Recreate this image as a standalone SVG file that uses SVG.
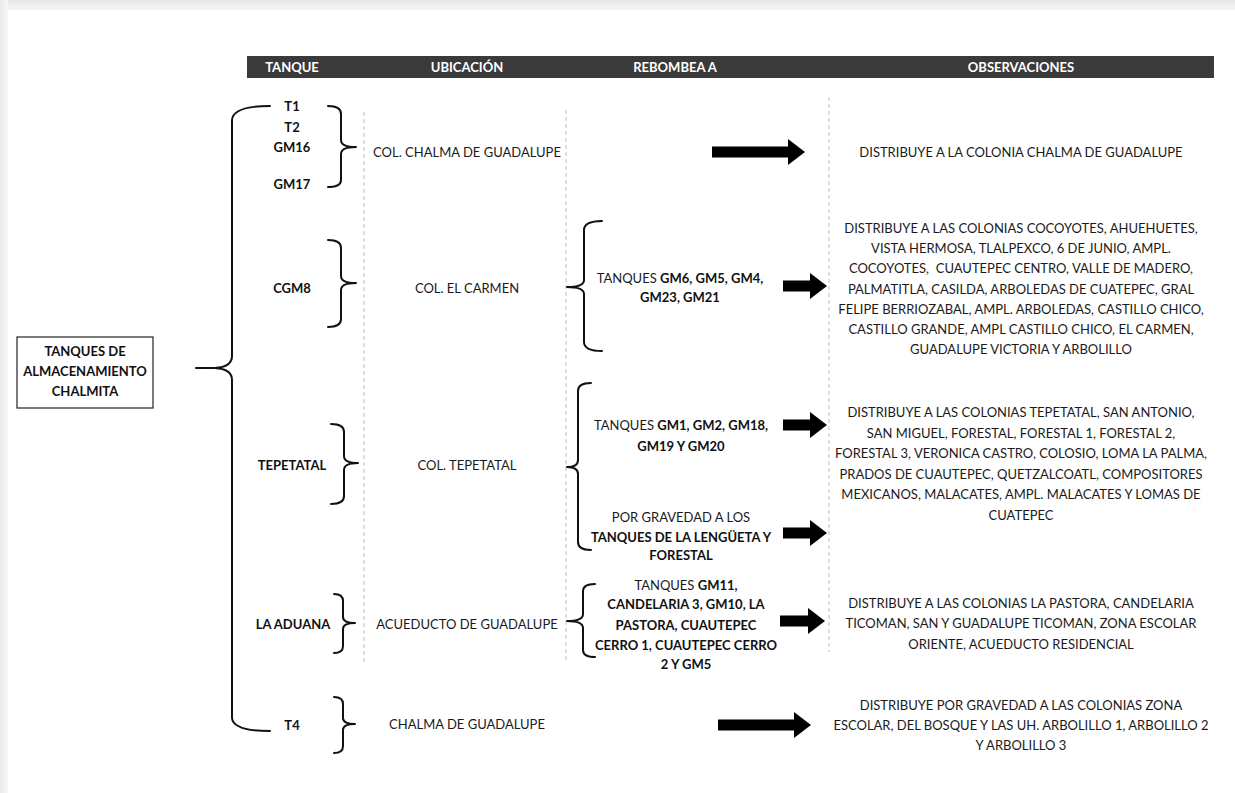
<svg xmlns="http://www.w3.org/2000/svg" width="1235" height="793" viewBox="0 0 1235 793">
<defs>
<linearGradient id="gtop" x1="0" y1="0" x2="0" y2="1"><stop offset="0" stop-color="#e6e6e6"/><stop offset="1" stop-color="#f6f6f6"/></linearGradient>
<linearGradient id="gleft" x1="0" y1="0" x2="1" y2="0"><stop offset="0" stop-color="#e9e9e9"/><stop offset="1" stop-color="#f7f7f7"/></linearGradient>
<path id="arr" d="M-17,-13 L0,0 L-17,13 Z"/>
</defs>
<style>
text{font-family:Lato,"Liberation Sans",sans-serif;font-size:13px;fill:#1a1a1a;text-anchor:middle}
.b{font-weight:bold;fill:#111}
.h{font-weight:bold;fill:#ffffff}
.br{fill:none;stroke:#111;stroke-width:2;stroke-linecap:round;stroke-linejoin:round}
.dash{stroke:#bdbdbd;stroke-width:1;stroke-dasharray:4,3;fill:none}
.ar{fill:#000}
</style>
<rect x="0" y="0" width="1235" height="793" fill="#ffffff"/>
<rect x="0" y="0" width="1235" height="10" fill="url(#gtop)"/>
<rect x="0" y="0" width="8" height="793" fill="url(#gleft)"/>

<g id="header">
<rect x="247" y="56" width="967" height="22" fill="#3b3a3a"/>
<text class="h" x="292" y="71.5">TANQUE</text>
<text class="h" x="467" y="71.5">UBICACIÓN</text>
<text class="h" x="675" y="71.5">REBOMBEA A</text>
<text class="h" x="1021" y="71.5">OBSERVACIONES</text>
</g>

<g id="separators">
<line class="dash" x1="364" y1="112" x2="364" y2="662"/>
<line class="dash" x1="566" y1="110" x2="566" y2="662"/>
<line class="dash" x1="829" y1="97" x2="829" y2="652"/>
</g>

<g id="root">
<rect x="17" y="337" width="136" height="71" fill="#fff" stroke="#222" stroke-width="1.2"/>
<text class="b" x="85" y="356">TANQUES DE</text>
<text class="b" x="85" y="376">ALMACENAMIENTO</text>
<text class="b" x="85" y="396">CHALMITA</text>
</g>

<g id="connectors">
<path class="br" d="M270,106 Q233,106 232,120 L232,356 Q232,367 215,368 L196,368 L215,368 Q232,369 232,380 L232,718 Q233,731 270,731"/>
<path class="br" d="M328,106 Q341,106 341,114 L341,140 Q341,147 356,147 Q341,147 341,154 L341,180 Q341,187 328,187"/>
<path class="br" d="M328,240 Q341,240 341,248 L341,276 Q341,283 356,283 Q341,283 341,290 L341,319 Q341,327 328,327"/>
<path class="br" d="M331,424 Q344,424 344,432 L344,456 Q344,463 358,463 Q344,463 344,470 L344,496 Q344,504 331,504"/>
<path class="br" d="M334,594 Q343,594 343,601 L343,617 Q343,623 355,623 Q343,623 343,629 L343,646 Q343,653 334,653"/>
<path class="br" d="M334,697 Q343,697 343,704 L343,718 Q343,724 355,724 Q343,724 343,730 L343,746 Q343,753 334,753"/>
<path class="br" d="M602,221 Q584,221 584,230 L584,280 Q584,287 567,287 Q584,287 584,294 L584,342 Q584,351 602,351"/>
<path class="br" d="M591,383 Q578,383 578,391 L578,460 Q578,467 567,467 Q578,467 578,474 L578,542 Q578,550 591,550"/>
<path class="br" d="M595,584 Q583,584 583,591 L583,614 Q583,621 567,621 Q583,621 583,628 L583,650 Q583,657 595,657"/>
<rect class="ar" x="712" y="146.5" width="77" height="11"/><use href="#arr" class="ar" x="805" y="152"/>
<rect class="ar" x="783" y="280.5" width="28" height="11"/><use href="#arr" class="ar" x="827" y="286"/>
<rect class="ar" x="783" y="419.5" width="28" height="11"/><use href="#arr" class="ar" x="827" y="425"/>
<rect class="ar" x="783" y="527.5" width="28" height="11"/><use href="#arr" class="ar" x="827" y="533"/>
<rect class="ar" x="780" y="615.5" width="29" height="11"/><use href="#arr" class="ar" x="825" y="621"/>
<rect class="ar" x="718" y="719.5" width="77" height="11"/><use href="#arr" class="ar" x="811" y="725"/>
</g>

<g id="row-t1">
<text class="b" x="292" y="111">T1</text>
<text class="b" x="292" y="132">T2</text>
<text class="b" x="292" y="152">GM16</text>
<text class="b" x="292" y="189">GM17</text>
<text x="467" y="157">COL. CHALMA DE GUADALUPE</text>
<text x="1021" y="157">DISTRIBUYE A LA COLONIA CHALMA DE GUADALUPE</text>
</g>

<g id="row-cgm8">
<text class="b" x="292" y="293">CGM8</text>
<text x="467" y="293">COL. EL CARMEN</text>
<text x="680" y="283">TANQUES <tspan class="b">GM6, GM5, GM4,</tspan></text>
<text class="b" x="680" y="302">GM23, GM21</text>
<text x="1021" y="233">DISTRIBUYE A LAS COLONIAS COCOYOTES, AHUEHUETES,</text>
<text x="1021" y="253">VISTA HERMOSA, TLALPEXCO, 6 DE JUNIO, AMPL.</text>
<text x="1021" y="273" xml:space="preserve">COCOYOTES,  CUAUTEPEC CENTRO, VALLE DE MADERO,</text>
<text x="1021" y="294">PALMATITLA, CASILDA, ARBOLEDAS DE CUATEPEC, GRAL</text>
<text x="1021" y="314">FELIPE BERRIOZABAL, AMPL. ARBOLEDAS, CASTILLO CHICO,</text>
<text x="1021" y="334">CASTILLO GRANDE, AMPL CASTILLO CHICO, EL CARMEN,</text>
<text x="1021" y="354">GUADALUPE VICTORIA Y ARBOLILLO</text>
</g>

<g id="row-tepetatal">
<text class="b" x="292" y="470">TEPETATAL</text>
<text x="467" y="470">COL. TEPETATAL</text>
<text x="681" y="430">TANQUES <tspan class="b">GM1, GM2, GM18,</tspan></text>
<text class="b" x="681" y="451">GM19 Y GM20</text>
<text x="681" y="522">POR GRAVEDAD A LOS</text>
<text class="b" x="681" y="542">TANQUES DE LA LENGÜETA Y</text>
<text class="b" x="681" y="560">FORESTAL</text>
<text x="1021" y="417">DISTRIBUYE A LAS COLONIAS TEPETATAL, SAN ANTONIO,</text>
<text x="1021" y="438">SAN MIGUEL, FORESTAL, FORESTAL 1, FORESTAL 2,</text>
<text x="1021" y="458">FORESTAL 3, VERONICA CASTRO, COLOSIO, LOMA LA PALMA,</text>
<text x="1021" y="479">PRADOS DE CUAUTEPEC, QUETZALCOATL, COMPOSITORES</text>
<text x="1021" y="499">MEXICANOS, MALACATES, AMPL. MALACATES Y LOMAS DE</text>
<text x="1021" y="520">CUATEPEC</text>
</g>

<g id="row-aduana">
<text class="b" x="293" y="629">LA ADUANA</text>
<text x="467" y="629">ACUEDUCTO DE GUADALUPE</text>
<text x="686" y="590">TANQUES <tspan class="b">GM11,</tspan></text>
<text class="b" x="686" y="609">CANDELARIA 3, GM10, LA</text>
<text class="b" x="686" y="630">PASTORA, CUAUTEPEC</text>
<text class="b" x="686" y="650">CERRO 1, CUAUTEPEC CERRO</text>
<text class="b" x="686" y="669">2 Y GM5</text>
<text x="1021" y="608">DISTRIBUYE A LAS COLONIAS LA PASTORA, CANDELARIA</text>
<text x="1021" y="628">TICOMAN, SAN Y GUADALUPE TICOMAN, ZONA ESCOLAR</text>
<text x="1021" y="649">ORIENTE, ACUEDUCTO RESIDENCIAL</text>
</g>

<g id="row-t4">
<text class="b" x="292" y="730">T4</text>
<text x="467" y="729">CHALMA DE GUADALUPE</text>
<text x="1021" y="710">DISTRIBUYE POR GRAVEDAD A LAS COLONIAS ZONA</text>
<text x="1021" y="730">ESCOLAR, DEL BOSQUE Y LAS UH. ARBOLILLO 1, ARBOLILLO 2</text>
<text x="1021" y="750">Y ARBOLILLO 3</text>
</g>
</svg>
